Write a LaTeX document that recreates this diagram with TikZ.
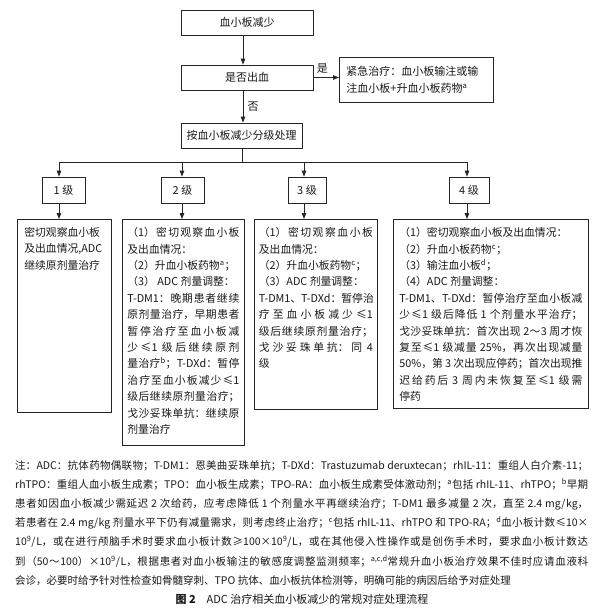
\documentclass[tikz,border=0pt]{standalone}
\usepackage{fontspec}
\setmainfont{Noto Sans CJK SC}
\usetikzlibrary{arrows.meta}
\XeTeXlinebreaklocale "zh"
\XeTeXlinebreakskip=0pt plus 1.5pt minus 0.3pt
\newcommand{\dtext}[3]{\parbox[t][#1][t]{#2}{\fontsize{10.8pt}{16.4pt}\selectfont #3}}
\tikzset{
  box/.style={draw=black!85, line width=0.8pt, text=black!90},
  arr/.style={-{Stealth[length=6pt,width=4.5pt,inset=0pt]}, line width=0.8pt, draw=black!85},
  ln/.style={line width=0.8pt, draw=black!85},
  lbl/.style={font=\fontsize{11pt}{13pt}\selectfont, text=black!90}
}
\begin{document}
\begin{tikzpicture}[x=1pt,y=-1pt]
\useasboundingbox[fill=white] (0,0) rectangle (600,614);

% top chain
\node[box, lbl, minimum width=132pt, minimum height=25pt, inner sep=0pt] (top) at (247,22.5) {血小板减少};
\node[box, lbl, minimum width=132pt, minimum height=25pt, inner sep=0pt] (q) at (247,77.5) {是否出血};
\node[box, lbl, minimum width=121pt, minimum height=25pt, inner sep=0pt] (grade) at (241.5,135.5) {按血小板减少分级处理};
\node[box, anchor=north west, minimum width=154pt, minimum height=45pt, inner sep=0pt] (em) at (339,57)
  {\parbox{140pt}{\fontsize{11pt}{17pt}\selectfont 紧急治疗：血小板输注或输\\注血小板+升血小板药物\textsuperscript{a}}};

\coordinate (ax) at (243,0);
\coordinate (gx) at (242,0);
\draw[arr] (top.south -| ax) -- (q.north -| ax);
\draw[arr] (q.south -| ax) -- node[right, lbl, xshift=1pt]{否} (grade.north -| ax);
\draw[arr] (q.east) -- node[above, lbl, pos=0.35]{是} (q.east -| em.west);

% level boxes
\node[box, lbl, minimum width=43pt, minimum height=26pt, inner sep=0pt] (l1) at (63.5,190) {1 级};
\node[box, lbl, minimum width=43pt, minimum height=26pt, inner sep=0pt] (l2) at (182.5,190) {2 级};
\node[box, lbl, minimum width=38pt, minimum height=26pt, inner sep=0pt] (l3) at (307,190) {3 级};
\node[box, lbl, minimum width=40pt, minimum height=26pt, inner sep=0pt] (l4) at (469,190) {4 级};

\coordinate (b1) at (59,162);
\coordinate (b2) at (182,162);
\coordinate (b3) at (304,162);
\coordinate (b4) at (467,162);
\draw[ln] (grade.south -| gx) -- (gx |- b1);
\draw[ln] (b1) -- (b4);
\draw[arr] (b1) -- (l1.north -| b1);
\draw[arr] (b2) -- (l2.north -| b2);
\draw[arr] (b3) -- (l3.north -| b3);
\draw[arr] (b4) -- (l4.north -| b4);

% detail boxes
\node[box, anchor=north west, inner xsep=7pt, inner ysep=8pt] (d1) at (17,219)
 {\dtext{177pt}{80pt}{密切观察血小板\\及出血情况,ADC\\继续原剂量治疗}};
\node[box, anchor=north west, inner xsep=5pt, inner ysep=8pt] (d2) at (122,219)
 {\dtext{210pt}{112pt}{（1）密切观察血小板\linebreak
及出血情况：\\
（2）升血小板药物\textsuperscript{a}；\\
（3） ADC 剂量调整：\\
T-DM1：晚期患者继续\linebreak
原剂量治疗，早期患者\linebreak
暂停治疗至血小板减\linebreak
少≤1 级后继续原剂\linebreak
量治疗\textsuperscript{b}；T-DXd：暂停\linebreak
治疗至血小板减少≤1\linebreak
级后继续原剂量治疗；\linebreak
戈沙妥珠单抗：继续原\linebreak
剂量治疗}};
\node[box, anchor=north west, inner xsep=4.5pt, inner ysep=8pt] (d3) at (254,219)
 {\dtext{174pt}{114pt}{（1）密切观察血小板\linebreak
及出血情况：\\
（2）升血小板药物\textsuperscript{c}；\\
（3）ADC 剂量调整：\\
\makebox[\linewidth][l]{T-DM1、T-DXd：暂\hfill 停\hfill 治}\\
疗至血小板减少≤1\linebreak
级后继续原剂量治疗；\linebreak
戈沙妥珠单抗：同 4\linebreak
级}};
\node[box, anchor=north west, inner xsep=6pt, inner ysep=8pt] (d4) at (393,219)
 {\dtext{173pt}{183pt}{（1）密切观察血小板及出血情况：\\
（2）升血小板药物\textsuperscript{c}；\\
（3）输注血小板\textsuperscript{d}；\\
（4）ADC 剂量调整：\\
T-DM1、T-DXd：暂停治疗至血小板减\linebreak
少≤1 级后降低 1 个剂量水平治疗；\linebreak
戈沙妥珠单抗：首次出现 2～3 周才恢\linebreak
复至≤1 级减量 25\%，再次出现减量\linebreak
50\%，第 3 次出现应停药；首次出现推\linebreak
迟给药后 3 周内未恢复至≤1 级需\linebreak
停药}};

\draw[arr] (l1.south -| b1) -- (d1.north -| b1);
\draw[arr] (l2.south -| b2) -- (d2.north -| b2);
\draw[arr] (l3.south -| b3) -- (d3.north -| b3);
\draw[arr] (l4.south -| b4) -- (d4.north -| b4);

% notes
\node[anchor=base west, inner sep=0pt, text=black!90] (notes) at (15,469)
 {\parbox[t]{573pt}{\fontsize{10.5pt}{19.2pt}\selectfont
注：ADC：抗体药物偶联物；T-DM1：恩美曲妥珠单抗；T-DXd：Trastuzumab deruxtecan；rhIL-11：重组人白介素-11；\linebreak
rhTPO：重组人血小板生成素；TPO：血小板生成素；TPO-RA：血小板生成素受体激动剂；\textsuperscript{a}包括 rhIL-11、rhTPO；\textsuperscript{b}早期\linebreak
患者如因血小板减少需延迟 2 次给药，应考虑降低 1 个剂量水平再继续治疗；T-DM1 最多减量 2 次，直至 2.4 mg/kg，\linebreak
若患者在 2.4 mg/kg 剂量水平下仍有减量需求，则考虑终止治疗；\textsuperscript{c}包括 rhIL-11、rhTPO 和 TPO-RA；\textsuperscript{d}血小板计数≤10×\linebreak
10\textsuperscript{9}/L，或在进行颅脑手术时要求血小板计数≥100×10\textsuperscript{9}/L，或在其他侵入性操作或是创伤手术时，要求血小板计数达\linebreak
到（50～100）×10\textsuperscript{9}/L，根据患者对血小板输注的敏感度调整监测频率；\textsuperscript{a,c,d}常规升血小板治疗效果不佳时应请血液科\linebreak
会诊，必要时给予针对性检查如骨髓穿刺、TPO 抗体、血小板抗体检测等，明确可能的病因后给予对症处理}};
\node[anchor=base, inner sep=0pt, text=black!90, font=\fontsize{11pt}{13pt}\selectfont] (cap) at (302,603)
 {{\bfseries 图 2}\quad ADC 治疗相关血小板减少的常规对症处理流程};
\end{tikzpicture}
\end{document}
